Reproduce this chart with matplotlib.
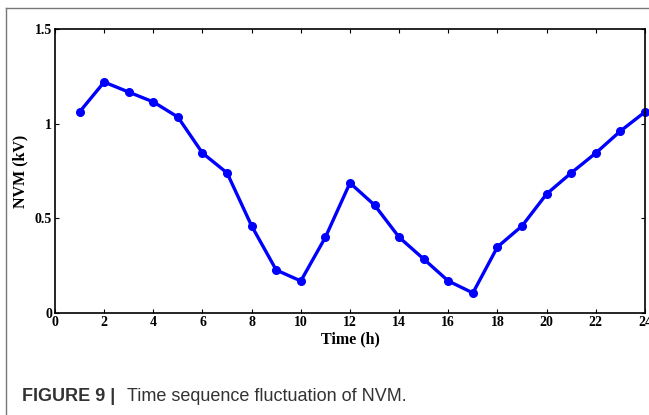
import numpy as np
import matplotlib.pyplot as plt
from matplotlib.lines import Line2D

# Data
hours = np.arange(1, 25)
nvm = [1.062, 1.22, 1.167, 1.115, 1.035, 0.845, 0.74, 0.46, 0.227, 0.169,
       0.40, 0.687, 0.57, 0.40, 0.285, 0.169, 0.106, 0.349, 0.46, 0.629,
       0.74, 0.845, 0.961, 1.062]
xticks = list(range(0, 25, 2))
yticks = [0, 0.5, 1, 1.5]
ytick_labels = ["0", "0.5", "1", "1.5"]

fig = plt.figure(figsize=(6.49, 4.15), dpi=100)
ax = fig.add_axes([0.0847, 0.2458, 0.9091, 0.6842])

ax.plot(hours, nvm, color="#0000ff", lw=2.4, marker="o", ms=5.5, clip_on=False)

ax.set_xlim(0, 24)
ax.set_ylim(0, 1.5)
ax.set_xticks(xticks)
ax.set_yticks(yticks)
ax.set_yticklabels(ytick_labels)
ax.tick_params(direction="in", top=True, right=True, length=3, width=0.8,
               labelsize=10, pad=2)
for lab in ax.get_xticklabels() + ax.get_yticklabels():
    lab.set_fontfamily("Liberation Serif")
    lab.set_fontweight("bold")
for s in ax.spines.values():
    s.set_linewidth(1.2)

ax.set_xlabel("Time (h)", fontfamily="Liberation Serif", fontweight="bold",
              fontsize=11.5, labelpad=2)
ax.set_ylabel("NVM (kV)", fontfamily="Liberation Serif", fontweight="bold",
              fontsize=11.5, labelpad=5)

# panel frame (top and left gray lines)
fig.add_artist(Line2D([6 / 649, 1], [1 - 8 / 415, 1 - 8 / 415],
                      transform=fig.transFigure, color="#777777", lw=1))
fig.add_artist(Line2D([6 / 649, 6 / 649], [0, 1 - 8 / 415],
                      transform=fig.transFigure, color="#777777", lw=1))

# caption
fig.text(22 / 649, 1 - 396 / 415, "FIGURE 9 |", fontfamily="Liberation Sans",
         fontweight="bold", fontsize=13, color="#333333", va="center")
fig.text(127 / 649, 1 - 396 / 415, "Time sequence fluctuation of NVM.",
         fontfamily="Liberation Sans", fontsize=13, color="#333333", va="center")

fig.savefig("out.png", dpi=100)
